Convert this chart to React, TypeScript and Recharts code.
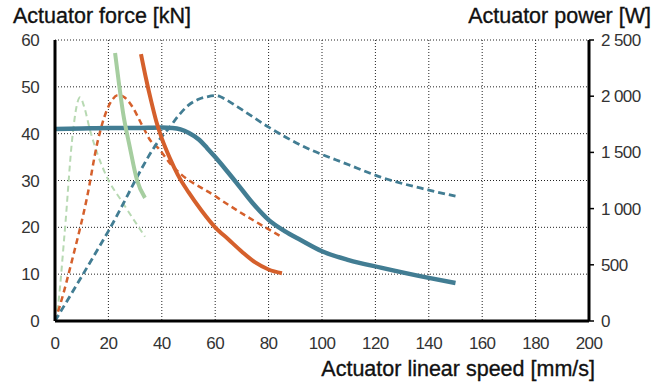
import React from "react";
import { LineChart, Line, XAxis, YAxis, CartesianGrid } from "recharts";

const speedTicks = [0, 20, 40, 60, 80, 100, 120, 140, 160, 180, 200];
const forceTicks = [0, 10, 20, 30, 40, 50, 60];
const powerTicks = [0, 500, 1000, 1500, 2000, 2500];

// force curves [kN]
const blueForceSpeed = [0, 10, 20, 30, 40, 44, 47, 50, 54, 57, 60, 64, 68, 74, 80, 86, 92, 100, 110, 122, 140, 150];
const blueForce = [41, 41.1, 41.2, 41.2, 41.3, 41.2, 40.9, 40.2, 38.7, 36.9, 35, 32.3, 29.5, 25.2, 21.6, 19.2, 17.3, 14.9, 13, 11.4, 9.2, 8.1];

const orangeForceSpeed = [32.2, 34, 36, 38, 40, 43, 46, 50, 55, 60, 65, 70, 75, 80, 85];
const orangeForce = [57, 52, 47, 42.5, 39, 34.8, 31.2, 27.5, 23.5, 20, 17.4, 14.8, 12.5, 11, 10.2];

const greenForceSpeed = [22.5, 24, 25.5, 28, 30.7, 33.7];
const greenForce = [57.2, 50.5, 44.4, 37.2, 30.1, 26.3];

// power curves [W]
const bluePowerSpeed = [0, 20, 40, 43, 46, 50, 54, 57, 60, 62, 64, 70, 80, 92, 110, 122, 140, 150];
const bluePower = [0, 800, 1640, 1725, 1820, 1920, 1975, 1995, 2005, 1995, 1970, 1880, 1725, 1565, 1390, 1280, 1165, 1110];

const orangePowerSpeed = [0, 2, 6.7, 12, 16, 19.5, 21.5, 23.6, 26, 28, 33, 35.6, 38.6, 43, 60.7, 85];
const orangePower = [0, 150, 570, 1100, 1600, 1880, 1970, 2010, 1990, 1940, 1725, 1610, 1540, 1405, 1100, 747];

const greenPowerSpeed = [0, 0.7, 3.7, 6.4, 8, 9.4, 11, 13.1, 16, 19.4, 25.3, 33.7];
const greenPower = [0, 70, 810, 1610, 1900, 1990, 1900, 1700, 1480, 1283, 1055, 750];

const zip = (xs: number[], ys: number[]) => xs.map((x, i) => ({ x, y: ys[i] }));

const BLUE = "#427d93";
const ORANGE = "#d5602c";
const GREEN = "#a6cea0";
const GREEN_LIGHT = "#b7d9b2";

const FONT = "'Liberation Sans', Arial, sans-serif";
const tickStyle = { fontSize: 17, fill: "#333", fontFamily: FONT, letterSpacing: -0.6 };

const fmtPower = (v: number) =>
  v >= 1000 ? `${Math.floor(v / 1000)} ${String(v % 1000).padStart(3, "0")}` : String(v);

const titleStyle: React.CSSProperties = {
  position: "absolute",
  fontFamily: FONT,
  fontSize: 21.5,
  color: "#111",
  WebkitTextStroke: "0.35px #111",
  whiteSpace: "nowrap",
  lineHeight: 1,
};

export default function App() {
  return (
    <div style={{ position: "absolute", left: 0, top: 0, width: 667, height: 385, background: "#fff" }}>
      <div style={{ ...titleStyle, left: 13, top: 6 }}>Actuator force [kN]</div>
      <div style={{ ...titleStyle, right: 16, top: 6 }}>Actuator power [W]</div>
      <div style={{ ...titleStyle, right: 72, top: 359 }}>Actuator linear speed [mm/s]</div>
      <LineChart width={667} height={385} margin={{ top: 40, right: 0, bottom: 34, left: 0 }}>
        <CartesianGrid yAxisId="f" stroke="#222" strokeDasharray="1 2" />
        <XAxis
          dataKey="x"
          type="number"
          domain={[0, 200]}
          ticks={speedTicks}
          height={30}
          tickLine={false}
          tickSize={0}
          tickMargin={16}
          axisLine={{ stroke: "#000", strokeWidth: 3 }}
          tick={tickStyle}
          interval={0}
        />
        <YAxis
          yAxisId="f"
          domain={[0, 60]}
          ticks={forceTicks}
          width={55}
          tickLine={false}
          tickSize={0}
          tickMargin={16}
          axisLine={{ stroke: "#000", strokeWidth: 3 }}
          tick={tickStyle}
          interval={0}
        />
        <YAxis
          yAxisId="p"
          orientation="right"
          domain={[0, 2500]}
          ticks={powerTicks}
          width={78}
          tickSize={5}
          tickMargin={7}
          tickLine={{ stroke: "#000", strokeWidth: 1.5 }}
          axisLine={{ stroke: "#000", strokeWidth: 3 }}
          tick={{ ...tickStyle, textAnchor: "start" }}
          tickFormatter={fmtPower}
          interval={0}
        />
        <Line yAxisId="p" data={zip(greenPowerSpeed, greenPower)} dataKey="y" type="monotone" stroke={GREEN_LIGHT} strokeWidth={2} strokeDasharray="6 4" dot={false} activeDot={false} isAnimationActive={false} />
        <Line yAxisId="p" data={zip(orangePowerSpeed, orangePower)} dataKey="y" type="monotone" stroke={ORANGE} strokeWidth={2.5} strokeDasharray="6 4" dot={false} activeDot={false} isAnimationActive={false} />
        <Line yAxisId="p" data={zip(bluePowerSpeed, bluePower)} dataKey="y" type="monotone" stroke={BLUE} strokeWidth={2.8} strokeDasharray="7 4" dot={false} activeDot={false} isAnimationActive={false} />
        <Line yAxisId="f" data={zip(blueForceSpeed, blueForce)} dataKey="y" type="monotone" stroke={BLUE} strokeWidth={4.5} dot={false} activeDot={false} isAnimationActive={false} />
        <Line yAxisId="f" data={zip(greenForceSpeed, greenForce)} dataKey="y" type="monotone" stroke={GREEN} strokeWidth={4} dot={false} activeDot={false} isAnimationActive={false} />
        <Line yAxisId="f" data={zip(orangeForceSpeed, orangeForce)} dataKey="y" type="monotone" stroke={ORANGE} strokeWidth={4} dot={false} activeDot={false} isAnimationActive={false} />
      </LineChart>
    </div>
  );
}
